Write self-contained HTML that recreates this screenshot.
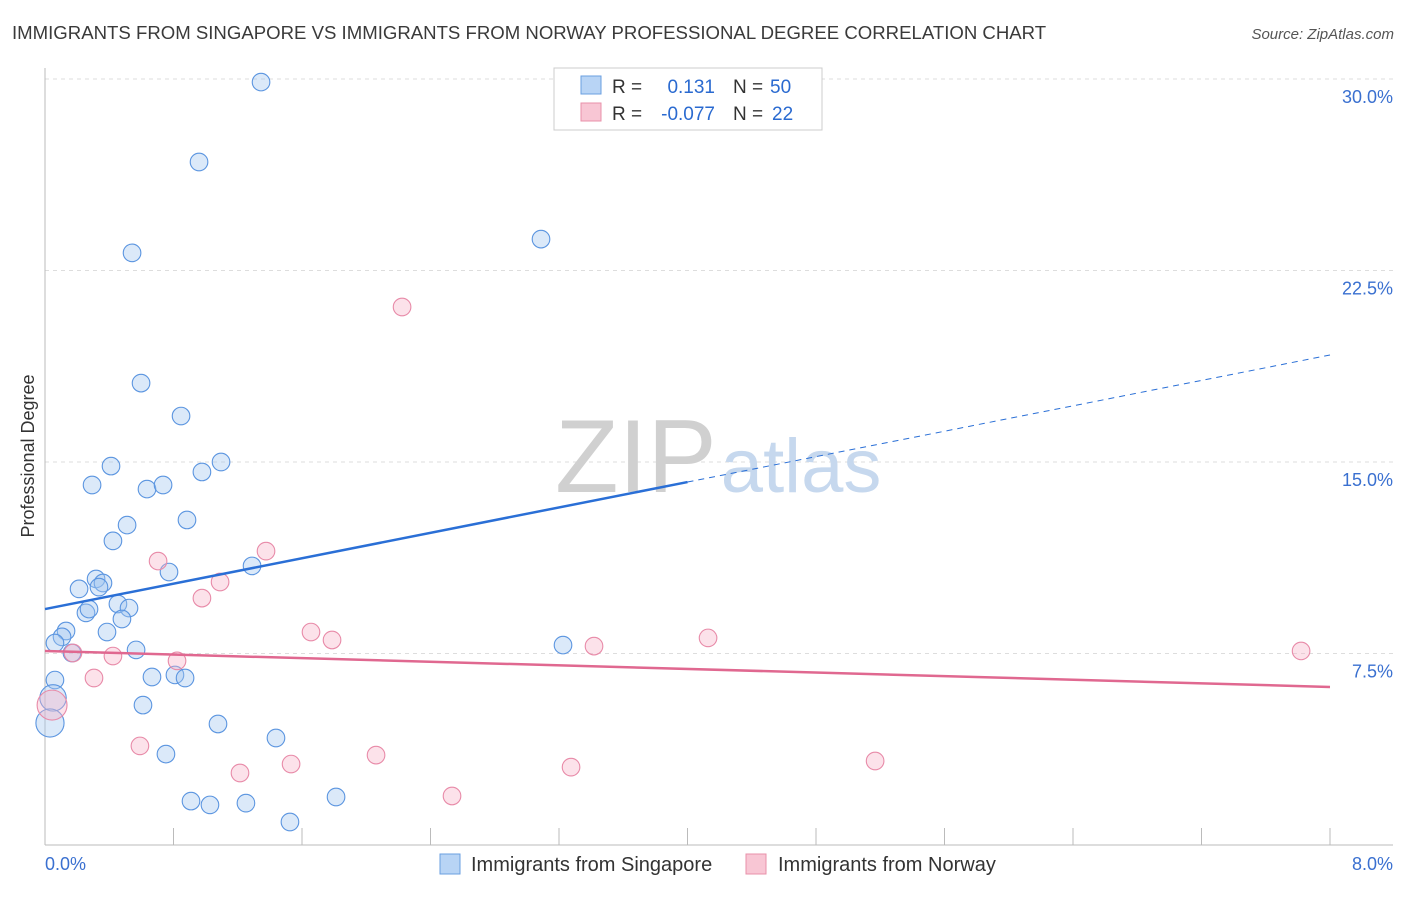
<!DOCTYPE html>
<html><head><meta charset="utf-8"><style>
body{margin:0;background:#fff;font-family:"Liberation Sans",sans-serif;}
svg text{font-family:"Liberation Sans",sans-serif;}
</style></head><body>
<svg id="chart" width="1406" height="892" xmlns="http://www.w3.org/2000/svg">
<text x="12" y="39" font-size="18.6" fill="#3a3a3a">IMMIGRANTS FROM SINGAPORE VS IMMIGRANTS FROM NORWAY PROFESSIONAL DEGREE CORRELATION CHART</text>
<text x="1394" y="39" font-size="15" fill="#555" font-style="italic" text-anchor="end">Source: ZipAtlas.com</text>
<text x="34" y="456" font-size="18" fill="#333" text-anchor="middle" transform="rotate(-90 34 456)">Professional Degree</text>
<g id="grid"></g>
<text x="555" y="492" font-size="104" fill="#d0d0d0" font-family="Liberation Serif">ZIP<tspan fill="#c6d8ee" font-family="Liberation Sans" font-size="76" dx="4">atlas</tspan></text>
<g id="marks"></g>
<g>
<rect x="554" y="68" width="268" height="62" fill="#fff" stroke="#ccc"/>
<rect x="581" y="76" width="20" height="18" fill="#b8d4f5" stroke="#6a9fe0"/>
<rect x="581" y="103" width="20" height="18" fill="#f8c6d4" stroke="#e890aa"/>
<text x="612" y="93" font-size="19" fill="#333">R = </text><text x="715" y="93" font-size="19" fill="#2a6ad0" text-anchor="end">0.131</text>
<text x="733" y="93" font-size="19" fill="#333">N = </text><text x="770" y="93" font-size="19" fill="#2a6ad0">50</text>
<text x="612" y="120" font-size="19" fill="#333">R = </text><text x="715" y="120" font-size="19" fill="#2a6ad0" text-anchor="end">-0.077</text>
<text x="733" y="120" font-size="19" fill="#333">N = </text><text x="772" y="120" font-size="19" fill="#2a6ad0">22</text>
</g>
<g>
<rect x="440" y="854" width="20" height="20" fill="#b8d4f5" stroke="#6a9fe0"/>
<text x="471" y="871" font-size="20" fill="#333">Immigrants from Singapore</text>
<rect x="746" y="854" width="20" height="20" fill="#f8c6d4" stroke="#e890aa"/>
<text x="778" y="871" font-size="20" fill="#333">Immigrants from Norway</text>
</g>
</svg>
<script>
const xTicks=[0,0.8,1.6,2.4,3.2,4.0,4.8,5.6,6.4,7.2,8.0];
const yTicks=[7.5,15.0,22.5,30.0];
const yTickLabels=["7.5%","15.0%","22.5%","30.0%"];
const xEndLabels=["0.0%","8.0%"];
const sgX=[1.345,0.959,0.542,3.088,0.598,0.847,0.411,1.096,0.977,0.293,0.635,0.735,0.884,0.511,0.423,0.772,1.289,0.212,0.318,0.361,0.336,0.454,0.523,0.255,0.274,0.479,0.386,0.131,0.106,0.062,0.168,0.567,0.062,0.666,0.809,0.872,0.610,1.077,1.438,0.753,0.909,1.027,1.251,1.525,1.812,0.050,0.031,3.225];
const sgY=[29.88,26.75,23.19,23.73,18.09,16.80,14.84,15.00,14.61,14.10,13.94,14.10,12.73,12.53,11.91,10.69,10.93,10.03,10.42,10.26,10.10,9.44,9.28,9.09,9.24,8.85,8.34,8.38,8.15,7.91,7.52,7.64,6.46,6.58,6.66,6.54,5.48,4.74,4.19,3.56,1.72,1.57,1.64,0.90,1.88,5.76,4.78,7.83];
const sgSize=[1,1,1,1,1,1,1,1,1,1,1,1,1,1,1,1,1,1,1,1,1,1,1,1,1,1,1,1,1,1,1,1,1,1,1,1,1,1,1,1,1,1,1,1,1,1.5,1.6,1];
const noX=[0.704,1.376,1.090,0.977,1.656,1.787,0.174,0.423,0.822,0.305,0.044,0.591,1.214,1.532,2.223,2.061,2.534,3.275,3.418,4.128,5.168,7.820];
const noY=[11.12,11.51,10.30,9.67,8.34,8.03,7.52,7.40,7.21,6.54,5.48,3.88,2.82,3.17,21.07,3.52,1.92,3.05,7.79,8.11,3.29,7.60];
const noSize=[1,1,1,1,1,1,1,1,1,1,1.7,1,1,1,1,1,1,1,1,1,1,1];
const sgTrend=[9.24,19.19]; const sgSolidEnd=4.0;
const noTrend=[7.60,6.19];

const NS="http://www.w3.org/2000/svg";
const X=v=>45+v/8*1285, Y=v=>845-v/30*766;
function mk(t,a,p){const e=document.createElementNS(NS,t);for(const k in a)e.setAttribute(k,a[k]);p.appendChild(e);return e;}
const grid=document.getElementById('grid'), marks=document.getElementById('marks');
yTicks.forEach((t,i)=>{
 const l=mk('line',{x1:45,x2:1393,y1:Y(t),y2:Y(t),stroke:'#ddd','stroke-dasharray':'4,4'},grid);
 
 
 const tx=mk('text',{x:1393,y:Y(t)+24,'font-size':18,fill:'#3a70d0','text-anchor':'end'},grid);
 tx.textContent=yTickLabels[i];
 
 
});
const ax=mk('line',{x1:45,x2:45,y1:68,y2:845,stroke:'#bbb'},grid);


const bx=mk('line',{x1:45,x2:1393,y1:845,y2:845,stroke:'#bbb'},grid);


xTicks.forEach(t=>{
 const l=mk('line',{x1:X(t),x2:X(t),y1:828,y2:845,stroke:'#bbb'},grid);
 
 
});
const xl0=mk('text',{x:45,y:870,'font-size':18,fill:'#3a70d0'},grid);xl0.textContent=xEndLabels[0];


const xl1=mk('text',{x:1393,y:870,'font-size':18,fill:'#3a70d0','text-anchor':'end'},grid);xl1.textContent=xEndLabels[1];


function pts(xs,ys,ss,fill,stroke,name){xs.forEach((x,i)=>{
 const c=mk('circle',{cx:X(x),cy:Y(ys[i]),r:8.8*ss[i],fill:fill,stroke:stroke,'stroke-width':1.1},marks);
 
 
});}
pts(sgX,sgY,sgSize,'rgba(160,196,240,0.38)','#5b95e0','singapore-point');
pts(noX,noY,noSize,'rgba(246,180,200,0.38)','#e88aa8','norway-point');
const sgAt=x=>sgTrend[0]+(sgTrend[1]-sgTrend[0])*x/8;
const t1=mk('line',{x1:X(0),y1:Y(sgAt(0)),x2:X(sgSolidEnd),y2:Y(sgAt(sgSolidEnd)),stroke:'#2a6fd6','stroke-width':2.5},marks);


const t2=mk('line',{x1:X(sgSolidEnd),y1:Y(sgAt(sgSolidEnd)),x2:X(8),y2:Y(sgAt(8)),stroke:'#2a6fd6','stroke-width':1,'stroke-dasharray':'6,5'},marks);


const t3=mk('line',{x1:X(0),y1:Y(noTrend[0]),x2:X(8),y2:Y(noTrend[1]),stroke:'#e06890','stroke-width':2.5},marks);


</script>
</body></html>
